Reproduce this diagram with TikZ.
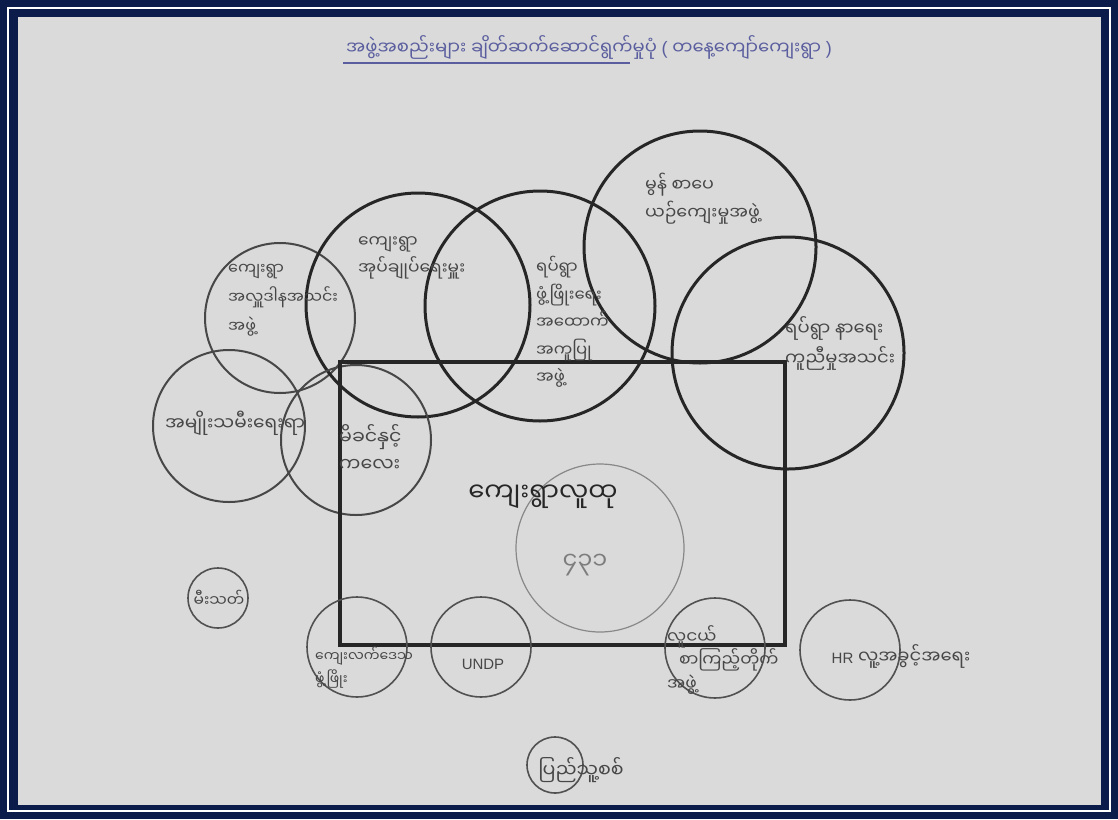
\documentclass[tikz,border=0pt]{standalone}
\usepackage{fontspec}
\setmainfont{Liberation Sans}
\newfontfamily\my[Script=Myanmar]{Noto Sans Myanmar UI}
\newfontfamily\lat{Liberation Sans}
\definecolor{navy}{HTML}{0B1C4A}
\definecolor{paper}{HTML}{DADADA}
\definecolor{ink}{HTML}{262626}
\definecolor{pen}{HTML}{5A5E9E}
\tikzset{
  bigc/.style={circle, draw=ink, line width=3pt, inner sep=0pt},
  midc/.style={circle, draw=ink!85, line width=2pt, inner sep=0pt},
  smallc/.style={circle, draw=ink!80, line width=1.6pt, inner sep=0pt},
  lbl/.style={font=\my\fontsize{17.5}{28}\selectfont, text=ink!85, align=left, inner sep=0pt},
}
\begin{document}
\begin{tikzpicture}[x=1pt,y=-1pt]
\useasboundingbox (0,0) rectangle (1118,819);
\fill[navy] (0,0) rectangle (1118,819);
\draw[white, line width=1.6pt] (8,8) rectangle (1110,811);
\fill[paper] (18,17) rectangle (1101,805);
% title
\node[font=\my\fontsize{18}{20}\selectfont, text=pen, inner sep=0pt] (title) at (589,47) {အဖွဲ့အစည်းများ ချိတ်ဆက်ဆောင်ရွက်မှုပုံ {\lat(} တနေ့ကျော်ကျေးရွာ {\lat)}};
\coordinate (ul1) at (343,63);
\coordinate (ul2) at (630,63);
\draw[pen, line width=1.2pt] (ul1) -- (ul2);
% big circles
\node[midc, minimum size=150pt] (c1) at (280,318) {};
\node[bigc, minimum size=224pt] (c2) at (418,305) {};
\node[bigc, minimum size=230pt] (c3) at (540,306) {};
\node[bigc, minimum size=232pt] (c4) at (700,247) {};
\node[bigc, minimum size=232pt] (c5) at (788,353) {};
\node[midc, minimum size=152pt] (c6) at (229,426) {};
\node[midc, minimum size=150pt] (c7) at (356,440) {};
% rectangle
\node[draw=ink, line width=4pt, minimum width=445pt, minimum height=283pt, inner sep=0pt] (box) at (562.5,503.5) {};
\node[circle, draw=ink!55, line width=1.2pt, minimum size=168pt, inner sep=0pt] (pop) at (600,548) {};
% small circles
\node[smallc, minimum size=60pt] (fire) at (218,598) {};
\node[smallc, minimum size=100pt] (rural) at (357,647) {};
\node[smallc, minimum size=100pt] (undp) at (481,647) {};
\node[smallc, minimum size=100pt] (youth) at (715,648) {};
\node[smallc, minimum size=100pt] (hr) at (850,650) {};
\node[smallc, minimum size=56pt] (mil) at (555,765) {};
% labels
\node[lbl, anchor=west, font=\my\fontsize{16}{29}\selectfont] (t1) at (228,300) {ကျေးရွာ\\အလှူဒါနအသင်း\\အဖွဲ့};
\node[lbl, anchor=west, font=\my\fontsize{17}{27}\selectfont] (t2) at (358,258) {ကျေးရွာ\\အုပ်ချုပ်ရေးမှူး};
\node[lbl, anchor=west, font=\my\fontsize{16.5}{27.5}\selectfont] (t3) at (536,322) {ရပ်ရွာ\\ဖွံ့ဖြိုးရေး\\အထောက်\\အကူပြု\\အဖွဲ့};
\node[lbl, anchor=west] (t4) at (645,199) {မွန် စာပေ\\ယဉ်ကျေးမှုအဖွဲ့};
\node[lbl, anchor=west, font=\my\fontsize{18}{30}\selectfont] (t5) at (785,343) {ရပ်ရွာ နာရေး\\ကူညီမှုအသင်း};
\node[lbl, anchor=west, font=\my\fontsize{18.5}{20}\selectfont] (t6) at (165,423) {အမျိုးသမီးရေးရာ};
\node[lbl, anchor=west, font=\my\fontsize{19}{27}\selectfont] (t7) at (339,448) {မိခင်နှင့်\\ကလေး};
\node[font=\my\fontsize{26}{30}\selectfont, text=ink, inner sep=0pt] (t8) at (543,497) {ကျေးရွာလူထု};
\node[font=\my\fontsize{24}{28}\selectfont, text=ink!60, inner sep=0pt] (t9) at (585,565) {၄၃၁};
\node[lbl, font=\my\fontsize{15.5}{18}\selectfont] (t10) at (219,598) {မီးသတ်};
\node[lbl, anchor=west, font=\my\fontsize{14}{23}\selectfont] (t11) at (315,668) {ကျေးလက်ဒေသ\\ဖွံ့ဖြိုး};
\node[lbl, font=\lat\fontsize{15}{17}\selectfont] (t12) at (483,664) {UNDP};
\node[lbl, anchor=west, font=\my\fontsize{17}{23.5}\selectfont] (t13) at (667,660) {လူငယ်\\\hspace*{12pt}စာကြည့်တိုက်\\အဖွဲ့};
\node[lbl, font=\my\fontsize{18}{20}\selectfont] (t14) at (901,656) {{\lat\fontsize{15}{17}\selectfont HR} လူ့အခွင့်အရေး};
\node[lbl, font=\my\fontsize{19}{22}\selectfont] (t15) at (581,770) {ပြည်သူ့စစ်};
\end{tikzpicture}
\end{document}
